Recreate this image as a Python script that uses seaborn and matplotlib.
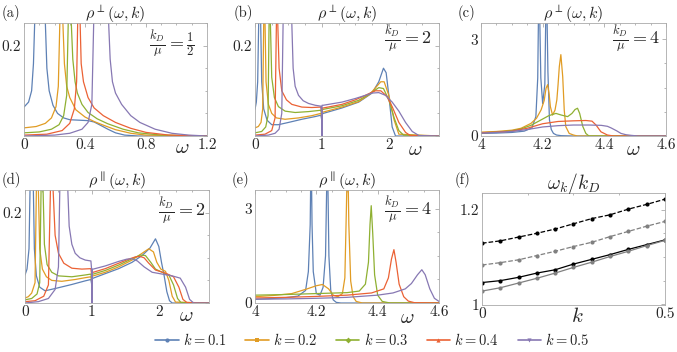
import pandas as pd
import matplotlib
matplotlib.use('Agg')
import matplotlib.pyplot as plt
from matplotlib.lines import Line2D
from matplotlib.ticker import AutoMinorLocator
import seaborn as sns

k_values = ['0.1', '0.2', '0.3', '0.4', '0.5']
colors = ['#5e81b5', '#e19c24', '#8fb032', '#eb6235', '#8778b3']
markers = ['o', 's', 'D', '^', 'v']

# panel (a): rho_perp, kD/mu = 1/2  (one list per k)
a_w = [
    [0, 0.03, 0.05, 0.062, 0.07, 0.105, 0.14, 0.15, 0.165, 0.19, 0.22, 0.26, 0.30, 0.36, 0.42, 0.46, 0.50, 0.55, 0.60, 0.66, 0.75, 1.2],
    [0, 0.08, 0.14, 0.18, 0.21, 0.225, 0.235, 0.245, 0.255, 0.265, 0.28, 0.30, 0.34, 0.40, 0.46, 0.52, 0.60, 0.70, 0.80, 1.2],
    [0, 0.10, 0.18, 0.23, 0.26, 0.28, 0.29, 0.30, 0.31, 0.32, 0.335, 0.35, 0.38, 0.42, 0.48, 0.55, 0.65, 0.75, 0.9, 1.2],
    [0, 0.15, 0.25, 0.30, 0.33, 0.345, 0.352, 0.36, 0.368, 0.375, 0.39, 0.42, 0.46, 0.52, 0.60, 0.70, 0.80, 0.95, 1.2],
    [0, 0.2, 0.30, 0.38, 0.42, 0.445, 0.457, 0.50, 0.555, 0.565, 0.58, 0.60, 0.64, 0.70, 0.76, 0.86, 0.97, 1.08, 1.2],
]
a_r = [
    [0.064, 0.075, 0.10, 0.16, 0.25, 0.8, 0.25, 0.15, 0.10, 0.068, 0.050, 0.040, 0.036, 0.035, 0.034, 0.031, 0.024, 0.015, 0.007, 0.002, 0, 0],
    [0.018, 0.021, 0.028, 0.040, 0.065, 0.11, 0.25, 0.9, 0.25, 0.16, 0.11, 0.085, 0.058, 0.042, 0.032, 0.024, 0.014, 0.006, 0.002, 0],
    [0.007, 0.009, 0.015, 0.025, 0.045, 0.09, 0.25, 0.9, 0.25, 0.17, 0.12, 0.095, 0.07, 0.052, 0.038, 0.027, 0.015, 0.007, 0.002, 0],
    [0.002, 0.004, 0.012, 0.028, 0.06, 0.12, 0.25, 1.0, 0.25, 0.16, 0.12, 0.085, 0.062, 0.045, 0.030, 0.017, 0.008, 0.002, 0],
    [0, 0.002, 0.006, 0.015, 0.03, 0.07, 0.25, 0.6, 0.25, 0.17, 0.12, 0.095, 0.07, 0.045, 0.030, 0.015, 0.006, 0.002, 0],
]

# panel (b): rho_perp, kD/mu = 2
b_w = [
    [0, 0.02, 0.04, 0.055, 0.07, 0.085, 0.1, 0.13, 0.18, 0.25, 0.35, 0.5, 0.7, 0.9, 0.985, 0.998, 1.0, 1.002, 1.02, 1.3, 1.55, 1.75, 1.85, 1.92, 1.96, 2.0, 2.05, 2.1, 2.75],
    [0, 0.05, 0.09, 0.115, 0.13, 0.14, 0.15, 0.165, 0.2, 0.25, 0.32, 0.45, 0.65, 0.85, 0.985, 0.998, 1.0, 1.002, 1.02, 1.3, 1.55, 1.72, 1.82, 1.88, 1.93, 2.0, 2.08, 2.15, 2.75],
    [0, 0.1, 0.16, 0.195, 0.21, 0.22, 0.23, 0.25, 0.29, 0.35, 0.45, 0.6, 0.8, 0.985, 0.998, 1.0, 1.002, 1.02, 1.3, 1.55, 1.7, 1.8, 1.85, 1.92, 2.0, 2.08, 2.15, 2.22, 2.75],
    [0, 0.15, 0.25, 0.3, 0.32, 0.33, 0.34, 0.36, 0.4, 0.47, 0.55, 0.7, 0.85, 0.985, 0.998, 1.0, 1.002, 1.02, 1.3, 1.5, 1.65, 1.75, 1.8, 1.88, 1.97, 2.05, 2.15, 2.25, 2.32, 2.75],
    [0, 0.2, 0.3, 0.36, 0.4, 0.42, 0.48, 0.55, 0.57, 0.6, 0.65, 0.72, 0.8, 0.9, 0.985, 0.998, 1.0, 1.002, 1.02, 1.3, 1.5, 1.65, 1.75, 1.85, 1.95, 2.05, 2.15, 2.25, 2.35, 2.45, 2.75],
]
b_r = [
    [0.059, 0.075, 0.12, 0.25, 0.9, 0.25, 0.12, 0.06, 0.035, 0.025, 0.025, 0.03, 0.037, 0.043, 0.046, 0.035, 0, 0.048, 0.05, 0.062, 0.075, 0.095, 0.12, 0.15, 0.14, 0.09, 0.02, 0.0, 0],
    [0.018, 0.021, 0.03, 0.06, 0.25, 0.9, 0.25, 0.12, 0.07, 0.05, 0.04, 0.037, 0.04, 0.045, 0.05, 0.04, 0, 0.052, 0.053, 0.064, 0.076, 0.093, 0.11, 0.12, 0.12, 0.09, 0.035, 0.004, 0],
    [0.007, 0.01, 0.02, 0.045, 0.25, 0.9, 0.25, 0.13, 0.085, 0.065, 0.055, 0.052, 0.054, 0.057, 0.045, 0, 0.058, 0.059, 0.067, 0.079, 0.092, 0.102, 0.107, 0.105, 0.08, 0.04, 0.012, 0.002, 0],
    [0.002, 0.004, 0.012, 0.04, 0.25, 0.9, 0.25, 0.15, 0.1, 0.08, 0.07, 0.064, 0.063, 0.064, 0.05, 0, 0.062, 0.062, 0.07, 0.08, 0.09, 0.097, 0.1, 0.1, 0.088, 0.065, 0.03, 0.008, 0.001, 0],
    [0, 0.002, 0.006, 0.015, 0.05, 0.25, 0.7, 0.25, 0.15, 0.11, 0.09, 0.078, 0.072, 0.068, 0.066, 0.05, 0, 0.068, 0.068, 0.075, 0.083, 0.09, 0.095, 0.096, 0.09, 0.075, 0.055, 0.03, 0.01, 0.001, 0],
]

# panel (c): rho_perp, kD/mu = 4
c_w = [
    [4.0, 4.05, 4.1, 4.14, 4.165, 4.178, 4.184, 4.188, 4.194, 4.2, 4.207, 4.212, 4.217, 4.222, 4.228, 4.235, 4.245, 4.26, 4.3, 4.6],
    [4.0, 4.05, 4.1, 4.13, 4.162, 4.18, 4.195, 4.205, 4.211, 4.216, 4.221, 4.225, 4.232, 4.24, 4.246, 4.25, 4.254, 4.259, 4.265, 4.27, 4.275, 4.286, 4.3, 4.313, 4.6],
    [4.0, 4.05, 4.1, 4.13, 4.162, 4.195, 4.22, 4.243, 4.26, 4.281, 4.295, 4.305, 4.313, 4.32, 4.33, 4.34, 4.35, 4.6],
    [4.0, 4.05, 4.1, 4.15, 4.2, 4.25, 4.3, 4.34, 4.36, 4.373, 4.389, 4.41, 4.43, 4.6],
    [4.0, 4.05, 4.1, 4.15, 4.2, 4.25, 4.3, 4.35, 4.39, 4.41, 4.422, 4.44, 4.454, 4.47, 4.487, 4.51, 4.6],
]
c_r = [
    [0.08, 0.09, 0.11, 0.15, 0.25, 0.6, 1.8, 5.0, 1.8, 1.0, 1.6, 5.0, 2.0, 0.5, 0.2, 0.08, 0.03, 0.01, 0, 0],
    [0.12, 0.14, 0.18, 0.24, 0.39, 0.55, 0.81, 1.1, 1.48, 1.59, 1.3, 0.91, 0.65, 0.8, 1.12, 1.6, 2.15, 2.52, 1.84, 0.8, 0.29, 0.08, 0.03, 0.0, 0],
    [0.1, 0.12, 0.16, 0.22, 0.33, 0.5, 0.63, 0.7, 0.65, 0.6, 0.7, 0.82, 0.86, 0.7, 0.3, 0.08, 0.0, 0],
    [0.1, 0.12, 0.15, 0.24, 0.38, 0.45, 0.47, 0.48, 0.46, 0.34, 0.13, 0.03, 0.0, 0],
    [0.09, 0.11, 0.14, 0.2, 0.28, 0.32, 0.34, 0.34, 0.33, 0.3, 0.25, 0.16, 0.08, 0.04, 0.02, 0.0, 0],
]

# panel (d): rho_par, kD/mu = 2
d_w = [
    [0, 0.03, 0.06, 0.075, 0.1, 0.125, 0.14, 0.17, 0.22, 0.3, 0.45, 0.7, 0.9, 0.985, 0.998, 1.0, 1.002, 1.02, 1.2, 1.4, 1.6, 1.75, 1.87, 1.95, 2.0, 2.04, 2.08, 2.12, 2.16, 2.2, 2.75],
    [0, 0.05, 0.1, 0.15, 0.17, 0.185, 0.2, 0.22, 0.26, 0.32, 0.4, 0.55, 0.75, 0.9, 0.985, 0.998, 1.0, 1.002, 1.02, 1.2, 1.4, 1.6, 1.75, 1.85, 1.92, 1.97, 2.03, 2.1, 2.15, 2.2, 2.25, 2.75],
    [0, 0.1, 0.18, 0.22, 0.24, 0.255, 0.27, 0.29, 0.33, 0.4, 0.5, 0.7, 0.9, 0.985, 0.998, 1.0, 1.002, 1.02, 1.2, 1.4, 1.6, 1.72, 1.8, 1.88, 1.95, 2.05, 2.15, 2.22, 2.28, 2.33, 2.75],
    [0, 0.15, 0.28, 0.35, 0.38, 0.4, 0.42, 0.45, 0.5, 0.58, 0.7, 0.85, 0.985, 0.998, 1.0, 1.002, 1.02, 1.2, 1.4, 1.55, 1.65, 1.72, 1.78, 1.85, 1.95, 2.1, 2.22, 2.3, 2.36, 2.42, 2.75],
    [0, 0.2, 0.35, 0.45, 0.5, 0.52, 0.58, 0.64, 0.66, 0.7, 0.75, 0.82, 0.9, 0.985, 0.998, 1.0, 1.002, 1.02, 1.2, 1.4, 1.52, 1.6, 1.68, 1.78, 1.9, 2.05, 2.2, 2.32, 2.4, 2.46, 2.52, 2.75],
]
d_r = [
    [0.062, 0.075, 0.12, 0.25, 0.9, 0.25, 0.12, 0.06, 0.035, 0.027, 0.032, 0.041, 0.049, 0.052, 0.04, 0, 0.053, 0.055, 0.065, 0.076, 0.09, 0.105, 0.122, 0.142, 0.125, 0.09, 0.06, 0.025, 0.005, 0, 0],
    [0.011, 0.014, 0.022, 0.045, 0.25, 0.9, 0.25, 0.12, 0.075, 0.058, 0.05, 0.048, 0.052, 0.056, 0.058, 0.045, 0, 0.06, 0.06, 0.068, 0.08, 0.095, 0.11, 0.12, 0.113, 0.09, 0.075, 0.07, 0.05, 0.015, 0.002, 0],
    [0.007, 0.01, 0.02, 0.045, 0.25, 0.9, 0.25, 0.13, 0.085, 0.068, 0.06, 0.058, 0.062, 0.064, 0.05, 0, 0.064, 0.064, 0.072, 0.084, 0.098, 0.106, 0.105, 0.09, 0.075, 0.068, 0.062, 0.04, 0.01, 0.001, 0],
    [0.003, 0.005, 0.015, 0.04, 0.25, 0.9, 0.25, 0.15, 0.11, 0.088, 0.077, 0.075, 0.076, 0.06, 0, 0.068, 0.068, 0.076, 0.088, 0.097, 0.102, 0.103, 0.1, 0.088, 0.073, 0.066, 0.058, 0.035, 0.008, 0.001, 0],
    [0, 0.003, 0.01, 0.03, 0.08, 0.25, 0.8, 0.25, 0.17, 0.13, 0.11, 0.1, 0.095, 0.093, 0.07, 0, 0.075, 0.075, 0.082, 0.092, 0.097, 0.098, 0.093, 0.08, 0.068, 0.064, 0.06, 0.055, 0.035, 0.008, 0, 0],
]

# panel (e): rho_par, kD/mu = 4
e_w = [
    [4.0, 4.05, 4.1, 4.14, 4.165, 4.174, 4.18, 4.183, 4.186, 4.19, 4.2, 4.212, 4.222, 4.23, 4.236, 4.241, 4.247, 4.255, 4.265, 4.28, 4.6],
    [4.0, 4.06, 4.12, 4.17, 4.2, 4.22, 4.24, 4.255, 4.27, 4.285, 4.293, 4.298, 4.302, 4.306, 4.312, 4.32, 4.33, 4.35, 4.6],
    [4.0, 4.1, 4.2, 4.3, 4.34, 4.36, 4.37, 4.375, 4.379, 4.384, 4.39, 4.4, 4.415, 4.44, 4.6],
    [4.0, 4.1, 4.2, 4.3, 4.38, 4.42, 4.435, 4.445, 4.453, 4.46, 4.47, 4.485, 4.5, 4.52, 4.6],
    [4.0, 4.1, 4.2, 4.3, 4.4, 4.45, 4.49, 4.51, 4.53, 4.544, 4.555, 4.57, 4.585, 4.6],
]
e_r = [
    [0.12, 0.14, 0.17, 0.22, 0.4, 1.0, 2.5, 5.0, 2.5, 1.0, 0.3, 0.25, 0.5, 1.5, 5.0, 1.5, 0.4, 0.1, 0.02, 0.0, 0.0],
    [0.2, 0.24, 0.3, 0.45, 0.55, 0.59, 0.45, 0.25, 0.2, 0.3, 0.8, 3.0, 5.0, 2.5, 0.7, 0.2, 0.05, 0.0, 0],
    [0.25, 0.27, 0.3, 0.33, 0.38, 0.6, 1.3, 2.5, 3.1, 2.2, 0.9, 0.25, 0.05, 0.0, 0],
    [0.16, 0.18, 0.21, 0.25, 0.32, 0.45, 0.8, 1.4, 1.7, 1.3, 0.6, 0.2, 0.06, 0.01, 0],
    [0.12, 0.13, 0.15, 0.18, 0.25, 0.32, 0.45, 0.62, 0.9, 1.06, 0.9, 0.45, 0.15, 0.05],
]

# panel (f): omega_k / k_D
f_k = [0, 0.05, 0.1, 0.15, 0.2, 0.25, 0.3, 0.35, 0.4, 0.45, 0.5]
f_black_dashed = [1.129, 1.134, 1.142, 1.150, 1.159, 1.170, 1.181, 1.189, 1.201, 1.211, 1.222]
f_gray_dashed = [1.083, 1.088, 1.094, 1.103, 1.112, 1.122, 1.131, 1.143, 1.154, 1.165, 1.175]
f_black_solid = [1.046, 1.050, 1.057, 1.066, 1.073, 1.085, 1.095, 1.105, 1.116, 1.126, 1.136]
f_gray_solid = [1.028, 1.035, 1.045, 1.055, 1.066, 1.078, 1.089, 1.101, 1.112, 1.124, 1.135]

sns.set_style('white')
plt.rcParams['font.family'] = ['cmr10', 'DejaVu Serif']
plt.rcParams['mathtext.fontset'] = 'cm'
plt.rcParams['axes.formatter.use_mathtext'] = True

fig = plt.figure(figsize=(6.77, 3.52), dpi=100)
W, H = 677.0, 352.0


def add_axes(x0, x1, y0, y1):
    return fig.add_axes([x0 / W, 1 - y1 / H, (x1 - x0) / W, (y1 - y0) / H])


def to_frame(ws, rs):
    parts = []
    for k, w, r in zip(k_values, ws, rs):
        parts.append(pd.DataFrame({'w': w, 'rho': r, 'k': 'k=' + k}))
    return pd.concat(parts, ignore_index=True)


def style(ax, xlim, ylim, xt, xtl, yt, ytl):
    ax.set_xlim(*xlim)
    ax.set_ylim(*ylim)
    ax.set_xticks(xt)
    ax.set_xticklabels(xtl)
    ax.set_yticks(yt)
    ax.set_yticklabels(ytl)
    ax.xaxis.set_minor_locator(AutoMinorLocator(4))
    ax.yaxis.set_minor_locator(AutoMinorLocator(4))
    ax.tick_params(which='both', direction='in', top=True, right=True,
                   color='#999999', width=0.5, labelsize=11, pad=2)
    ax.tick_params(which='major', length=3)
    ax.tick_params(which='minor', length=1.5)
    for s in ax.spines.values():
        s.set_color('#aaaaaa')
        s.set_linewidth(0.6)
    ax.set_xlabel('')
    ax.set_ylabel('')


def spectral(ax, ws, rs):
    df = to_frame(ws, rs)
    sns.lineplot(data=df, x='w', y='rho', hue='k', palette=colors,
                 hue_order=['k=' + k for k in k_values], estimator=None,
                 sort=False, legend=False, linewidth=0.9, ax=ax)


panels = [
    ('(a)', add_axes(24, 207, 23, 136), a_w, a_r, r'$\rho^{\perp}(\omega,k)$', r'$\frac{k_D}{\mu}=\frac{1}{2}$', (0.81, 0.82)),
    ('(b)', add_axes(255, 439, 23, 136), b_w, b_r, r'$\rho^{\perp}(\omega,k)$', r'$\frac{k_D}{\mu}=2$', (0.83, 0.86)),
    ('(c)', add_axes(481, 666, 23, 136), c_w, c_r, r'$\rho^{\perp}(\omega,k)$', r'$\frac{k_D}{\mu}=4$', (0.84, 0.86)),
    ('(d)', add_axes(25, 209, 190, 303), d_w, d_r, r'$\rho^{\parallel}(\omega,k)$', r'$\frac{k_D}{\mu}=2$', (0.85, 0.82)),
    ('(e)', add_axes(255, 439, 190, 303), e_w, e_r, r'$\rho^{\parallel}(\omega,k)$', r'$\frac{k_D}{\mu}=4$', (0.83, 0.83)),
]

for lab, ax, ws, rs, title, note, pos in panels:
    spectral(ax, ws, rs)
    ax.set_title(title, fontsize=11.5, pad=3)
    ax.text(pos[0], pos[1], note, transform=ax.transAxes, ha='center', va='center', fontsize=13)

style(panels[0][1], (0, 1.2), (0, 0.25), [0, 0.4, 0.8, 1.2], ['0', '0.4', '0.8', '1.2'], [0, 0.2], ['', '0.2'])
style(panels[1][1], (0, 2.75), (0, 0.25), [0, 1, 2], ['0', '1', '2'], [0, 0.2], ['', '0.2'])
style(panels[2][1], (4, 4.6), (0, 3.5), [4, 4.2, 4.4, 4.6], ['4', '4.2', '4.4', '4.6'], [0, 3], ['0', '3'])
style(panels[3][1], (0, 2.75), (0, 0.25), [0, 1, 2], ['0', '1', '2'], [0, 0.2], ['', '0.2'])
style(panels[4][1], (4, 4.6), (0, 3.6), [4, 4.2, 4.4, 4.6], ['4', '4.2', '4.4', '4.6'], [0, 3], ['0', '3'])

# panel (f)
axf = add_axes(482, 665, 193, 305)
for vals, col, ls in [(f_black_dashed, 'black', '--'), (f_gray_dashed, '#808080', '--'),
                      (f_black_solid, 'black', '-'), (f_gray_solid, '#808080', '-')]:
    sns.lineplot(x=f_k, y=vals, color=col, linestyle=ls, marker='o', markersize=3,
                 markeredgewidth=0, linewidth=0.9, ax=axf)
style(axf, (0, 0.5), (0.9986, 1.235), [0, 0.5], ['0', '0.5'], [1, 1.2], ['1', '1.2'])
axf.set_title(r'$\omega_k/k_D$', fontsize=14, pad=3)

# panel letters and axis symbols
for lab, x, y in [('(a)', 2, 13), ('(b)', 234, 13), ('(c)', 458, 13),
                  ('(d)', 2, 180), ('(e)', 232, 180), ('(f)', 455, 180)]:
    fig.text(x / W, 1 - y / H, lab, fontsize=10.5, va='center', ha='left')
for x, y, s in [(182, 148, r'$\omega$'), (415, 150, r'$\omega$'), (633, 150, r'$\omega$'),
                (186, 316, r'$\omega$'), (407, 318, r'$\omega$'), (577, 316, r'$k$')]:
    fig.text(x / W, 1 - y / H, s, fontsize=15, va='center', ha='center')

handles = [Line2D([0], [0], color=c, marker=m, markersize=3, linewidth=1.2, markeredgewidth=0)
           for c, m in zip(colors, markers)]
fig.legend(handles, [r'$k=' + k + '$' for k in k_values], loc='center',
           bbox_to_anchor=(0.55, 1 - 340 / H), ncol=5, frameon=False, fontsize=10.5,
           handlelength=1.6, handletextpad=0.3, columnspacing=1.3)

fig.savefig('out.png', dpi=100)
